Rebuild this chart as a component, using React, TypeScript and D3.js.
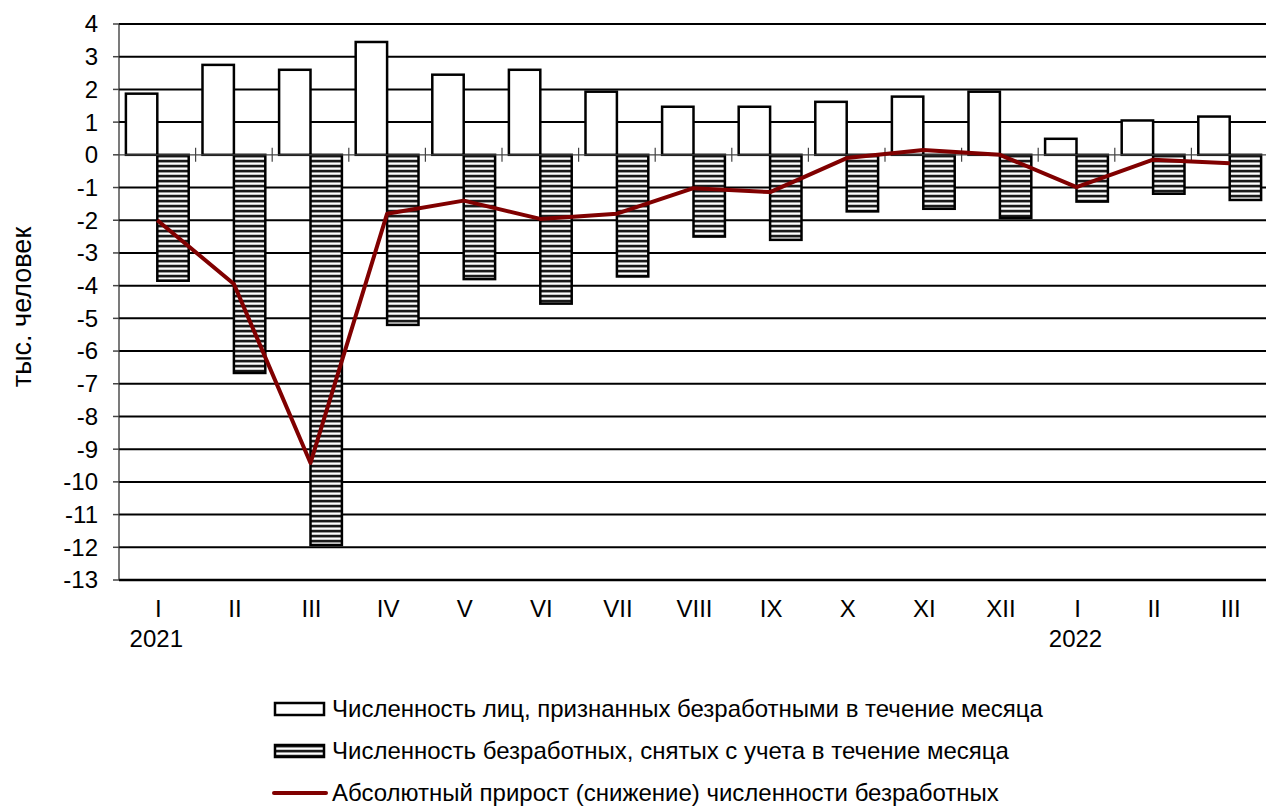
import * as d3 from "d3";
import { useEffect, useRef } from "react";

const months = ["I", "II", "III", "IV", "V", "VI", "VII", "VIII", "IX", "X", "XI", "XII", "I", "II", "III"];
const years = ["2021", "", "", "", "", "", "", "", "", "", "", "", "2022", "", ""];
const registered = [1.87, 2.75, 2.6, 3.45, 2.45, 2.6, 1.93, 1.47, 1.47, 1.62, 1.78, 1.93, 0.49, 1.05, 1.17];
const removed = [-3.85, -6.67, -11.93, -5.2, -3.8, -4.55, -3.72, -2.5, -2.6, -1.73, -1.65, -1.93, -1.43, -1.19, -1.38];
const growth = [-2.0, -3.95, -9.42, -1.8, -1.4, -1.96, -1.8, -1.02, -1.14, -0.1, 0.15, 0.0, -0.99, -0.15, -0.26];
const yTicks = d3.range(-13, 5);
const legendLabels = [
  "Численность лиц, признанных безработными в течение месяца",
  "Численность безработных, снятых с учета в течение месяца",
  "Абсолютный прирост (снижение) численности безработных",
];

const W = 1266;
const H = 808;
const left = 119;
const right = 1268;
const top = 24;
const bottom = 580;
const FONT = "'Liberation Sans', Arial, sans-serif";

export default function App() {
  const svgRef = useRef(null);

  useEffect(() => {
    const svgEl = d3.select(svgRef.current);
    svgEl.selectAll("*").remove();

    // hatch pattern for removed bars
    const defs = svgEl.append("defs");
    const pat = defs
      .append("pattern")
      .attr("id", "hatch")
      .attr("patternUnits", "userSpaceOnUse")
      .attr("width", 8)
      .attr("height", 5);
    pat.append("rect").attr("width", 8).attr("height", 5).attr("fill", "#ffffff");
    pat.append("rect").attr("y", 0).attr("width", 8).attr("height", 2).attr("fill", "#1a1a1a");
    pat.append("rect").attr("y", 2).attr("width", 8).attr("height", 1).attr("fill", "#9a9a9a");
    pat.append("rect").attr("y", 4).attr("width", 8).attr("height", 1).attr("fill", "#c8c8c8");

    const x = d3.scaleBand().domain(months.map((_, i) => String(i))).range([left, right]).padding(0);
    const y = d3.scaleLinear().domain([-13, 4]).range([bottom, top]);
    const bw = x.bandwidth();
    const barW = bw * 0.41;
    const cx = (i) => x(String(i)) + bw / 2;

    const svg = svgEl.append("g");

    // gridlines
    svg
      .selectAll("line.grid")
      .data(yTicks.filter((d) => d !== 0))
      .enter()
      .append("line")
      .attr("x1", left)
      .attr("x2", W)
      .attr("y1", (d) => y(d))
      .attr("y2", (d) => y(d))
      .attr("stroke", "#000")
      .attr("stroke-width", (d) => (d === -13 ? 2.5 : 2));

    // y axis
    svg.append("line").attr("x1", left).attr("x2", left).attr("y1", top).attr("y2", bottom).attr("stroke", "#222").attr("stroke-width", 1.2);
    svg
      .selectAll("line.ytick")
      .data(yTicks)
      .enter()
      .append("line")
      .attr("x1", left - 6)
      .attr("x2", left)
      .attr("y1", (d) => y(d))
      .attr("y2", (d) => y(d))
      .attr("stroke", "#444")
      .attr("stroke-width", 1.5);
    svg
      .selectAll("text.ylab")
      .data(yTicks)
      .enter()
      .append("text")
      .attr("x", left - 21)
      .attr("y", (d) => y(d))
      .attr("dy", "0.35em")
      .attr("text-anchor", "end")
      .attr("font-family", FONT)
      .attr("font-size", 24)
      .text((d) => d);

    // bars
    svg
      .selectAll("rect.reg")
      .data(registered)
      .enter()
      .append("rect")
      .attr("x", (d, i) => cx(i) - barW)
      .attr("y", (d) => y(d))
      .attr("width", barW)
      .attr("height", (d) => y(0) - y(d))
      .attr("fill", "#fff")
      .attr("stroke", "#000")
      .attr("stroke-width", 2.5);
    svg
      .selectAll("rect.rem")
      .data(removed)
      .enter()
      .append("rect")
      .attr("x", (d, i) => cx(i))
      .attr("y", y(0))
      .attr("width", barW)
      .attr("height", (d) => y(d) - y(0))
      .attr("fill", "url(#hatch)")
      .attr("stroke", "#000")
      .attr("stroke-width", 2.5);

    // zero axis
    svg.append("line").attr("x1", left).attr("x2", W).attr("y1", y(0)).attr("y2", y(0)).attr("stroke", "#444").attr("stroke-width", 1.2);
    svg
      .selectAll("line.xtick")
      .data(d3.range(1, months.length))
      .enter()
      .append("line")
      .attr("x1", (d) => x(String(d)))
      .attr("x2", (d) => x(String(d)))
      .attr("y1", y(0) - 7)
      .attr("y2", y(0) + 7)
      .attr("stroke", "#444")
      .attr("stroke-width", 1.2);

    // line
    const line = d3
      .line()
      .x((d, i) => cx(i))
      .y((d) => y(d));
    svg
      .append("path")
      .datum(growth)
      .attr("d", line)
      .attr("fill", "none")
      .attr("stroke", "#800000")
      .attr("stroke-width", 4)
      .attr("stroke-linejoin", "round");

    // x labels
    svg
      .selectAll("text.xlab")
      .data(months)
      .enter()
      .append("text")
      .attr("x", (d, i) => cx(i) + 1)
      .attr("y", 617)
      .attr("text-anchor", "middle")
      .attr("font-family", FONT)
      .attr("font-size", 24)
      .text((d) => d);
    svg
      .selectAll("text.year")
      .data(years)
      .enter()
      .append("text")
      .attr("x", (d, i) => cx(i) - 1)
      .attr("y", 647)
      .attr("text-anchor", "middle")
      .attr("font-family", FONT)
      .attr("font-size", 24)
      .text((d) => d);

    // y title
    svg
      .append("text")
      .attr("transform", `translate(31, 307) rotate(-90)`)
      .attr("text-anchor", "middle")
      .attr("font-family", FONT)
      .attr("font-size", 27)
      .text("тыс. человек");

    // legend
    const lg = svg.append("g").attr("transform", "translate(275, 0)");
    const rowsY = [709, 751, 793];
    lg.append("rect").attr("x", 0).attr("y", rowsY[0] - 6).attr("width", 49).attr("height", 12).attr("fill", "#fff").attr("stroke", "#000").attr("stroke-width", 2.5);
    lg.append("rect").attr("x", 0).attr("y", rowsY[1] - 6).attr("width", 49).attr("height", 12).attr("fill", "url(#hatch)").attr("stroke", "#000").attr("stroke-width", 2.5);
    lg.append("line").attr("x1", -1).attr("x2", 51).attr("y1", rowsY[2]).attr("y2", rowsY[2]).attr("stroke", "#800000").attr("stroke-width", 4).attr("stroke-linecap", "round");
    lg.selectAll("text")
      .data(legendLabels)
      .enter()
      .append("text")
      .attr("x", 57)
      .attr("y", (d, i) => rowsY[i])
      .attr("dy", "0.35em")
      .attr("font-family", FONT)
      .attr("font-size", 24)
      .text((d) => d);
  }, []);

  return (
    <div style={{ position: "absolute", left: 0, top: 0 }}>
      <svg ref={svgRef} width={W} height={H} style={{ display: "block" }} />
    </div>
  );
}
